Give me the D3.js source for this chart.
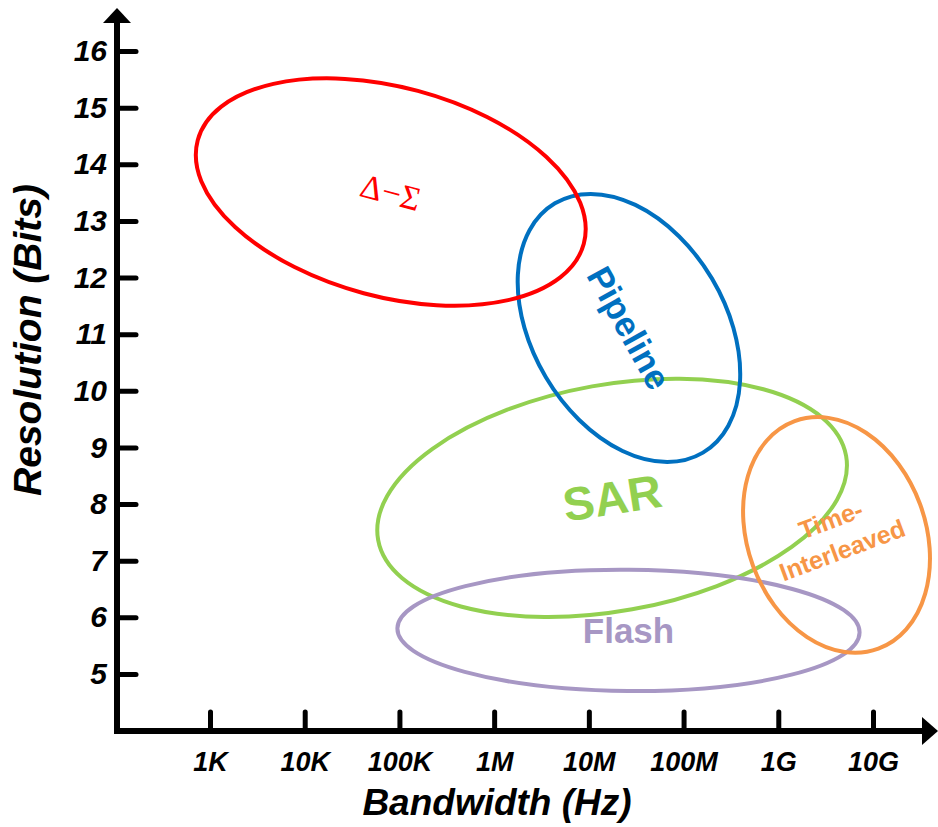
<!DOCTYPE html>
<html>
<head>
<meta charset="utf-8">
<script src="https://cdn.jsdelivr.net/npm/d3@7"></script>
<style>
  body { margin: 0; background: #fff; }
  text { font-family: "Liberation Sans", Arial, sans-serif; }
</style>
</head>
<body>
<div id="chart"></div>
<script>
// Data
const bandwidthTicks = [1e3, 1e4, 1e5, 1e6, 1e7, 1e8, 1e9, 1e10];
const bandwidthLabels = ['1K', '10K', '100K', '1M', '10M', '100M', '1G', '10G'];
const bitTicks = [5, 6, 7, 8, 9, 10, 11, 12, 13, 14, 15, 16];

// ADC regions: centre, half-span (decades / bits) and tilt
const adcTypes = ['SAR', 'Flash', 'Time-Interleaved', 'Pipeline', 'Δ−Σ'];
const centerBandwidth = [17.6e6, 26.2e6, 4.12e9, 26.5e6, 81e3];
const centerBits = [8.11, 5.77, 7.455, 11.11, 13.51];
const spanDecades = [2.51, 2.44, 0.94, 1.02, 2.11];
const spanBits = [2.0, 1.07, 2.14, 2.56, 1.85];
const tiltDeg = [-10.2, 0.5, -20.2, -30.7, 15];

// Chart dimensions
const width = 938;
const height = 827;

const styles = {
  'SAR': { color: '#92D050', size: 47, angle: -9 },
  'Flash': { color: '#A797C4', size: 35, angle: 0 },
  'Time-Interleaved': { color: '#F79646', size: 25, angle: -20.5 },
  'Pipeline': { color: '#0070C0', size: 35, angle: 61 },
  'Δ−Σ': { color: '#FF0000', size: 34, angle: 15, serif: true }
};

const svg = d3.select('#chart')
  .append('svg')
  .attr('width', width)
  .attr('height', height);

// Scales
const xScale = d3.scaleLog()
  .domain([1e3, 1e10])
  .range([210, 873]);

const yScale = d3.scaleLinear()
  .domain([5, 16])
  .range([674, 51]);

const pxPerDecade = xScale(1e4) - xScale(1e3);
const pxPerBit = yScale(5) - yScale(6);

const axisX = 117;
const axisY = 731;

// Regions
const regions = adcTypes.map((name, i) => ({
  name,
  cx: xScale(centerBandwidth[i]),
  cy: yScale(centerBits[i]),
  rx: spanDecades[i] * pxPerDecade,
  ry: spanBits[i] * pxPerBit,
  tilt: tiltDeg[i]
}));

svg.selectAll('.region')
  .data(regions)
  .enter()
  .append('ellipse')
  .attr('class', 'region')
  .attr('cx', d => d.cx)
  .attr('cy', d => d.cy)
  .attr('rx', d => d.rx)
  .attr('ry', d => d.ry)
  .attr('transform', d => `rotate(${d.tilt},${d.cx},${d.cy})`)
  .attr('fill', 'none')
  .attr('stroke', d => styles[d.name].color)
  .attr('stroke-width', 4);

// Region labels
const labels = svg.selectAll('.region-label')
  .data(regions)
  .enter()
  .append('text')
  .attr('class', 'region-label')
  .attr('transform', d => `translate(${d.cx},${d.cy}) rotate(${styles[d.name].angle})`)
  .attr('text-anchor', 'middle')
  .attr('fill', d => styles[d.name].color)
  .attr('font-size', d => styles[d.name].size)
  .attr('font-weight', d => styles[d.name].serif ? 'normal' : 'bold')
  .style('font-family', d => styles[d.name].serif ? '"Liberation Serif", "Times New Roman", serif' : null);

labels.each(function(d) {
  const t = d3.select(this);
  if (d.name === 'Time-Interleaved') {
    t.append('tspan').attr('x', 0).attr('dy', '-0.3em').text('Time-');
    t.append('tspan').attr('x', 0).attr('dy', '1.3em').text('Interleaved');
  } else {
    t.attr('dy', '0.35em').text(d.name);
  }
});

// Y axis
const yAxis = svg.append('g')
  .attr('class', 'y-axis')
  .attr('transform', `translate(${axisX},0)`)
  .call(d3.axisLeft(yScale)
    .tickValues(bitTicks)
    .tickFormat(d3.format('d'))
    .tickSizeInner(-19)
    .tickSizeOuter(0)
    .tickPadding(10));

// X axis
const xAxis = svg.append('g')
  .attr('class', 'x-axis')
  .attr('transform', `translate(0,${axisY})`)
  .call(d3.axisBottom(xScale)
    .tickValues(bandwidthTicks)
    .tickFormat((d, i) => bandwidthLabels[i])
    .tickSizeInner(-19)
    .tickSizeOuter(0)
    .tickPadding(21));

svg.selectAll('.x-axis .domain, .y-axis .domain').remove();
svg.selectAll('.tick line')
  .attr('stroke', '#000')
  .attr('stroke-width', 5)
  .attr('stroke-linecap', 'round');
svg.selectAll('.tick text')
  .attr('fill', '#000')
  .attr('font-weight', 'bold')
  .attr('font-style', 'italic');
yAxis.selectAll('.tick text').attr('font-size', 30);
xAxis.selectAll('.tick text').attr('font-size', 27);

// Axis lines with arrows
svg.append('line')
  .attr('x1', axisX).attr('y1', axisY + 3)
  .attr('x2', axisX).attr('y2', 20)
  .attr('stroke', '#000').attr('stroke-width', 6);
svg.append('line')
  .attr('x1', axisX - 3).attr('y1', axisY)
  .attr('x2', 926).attr('y2', axisY)
  .attr('stroke', '#000').attr('stroke-width', 6);
svg.append('path')
  .attr('d', `M${axisX},8 L${axisX + 14},23 L${axisX - 14},23 Z`)
  .attr('fill', '#000');
svg.append('path')
  .attr('d', `M938,${axisY} L922,${axisY - 14} L922,${axisY + 14} Z`)
  .attr('fill', '#000');

// Axis titles
svg.append('text')
  .attr('transform', `translate(41,340) rotate(-90)`)
  .attr('text-anchor', 'middle')
  .attr('font-size', 39)
  .attr('font-weight', 'bold')
  .attr('font-style', 'italic')
  .text('Resolution (Bits)');

svg.append('text')
  .attr('x', 497)
  .attr('y', 815)
  .attr('text-anchor', 'middle')
  .attr('font-size', 37)
  .attr('font-weight', 'bold')
  .attr('font-style', 'italic')
  .text('Bandwidth (Hz)');
</script>
</body>
</html>
